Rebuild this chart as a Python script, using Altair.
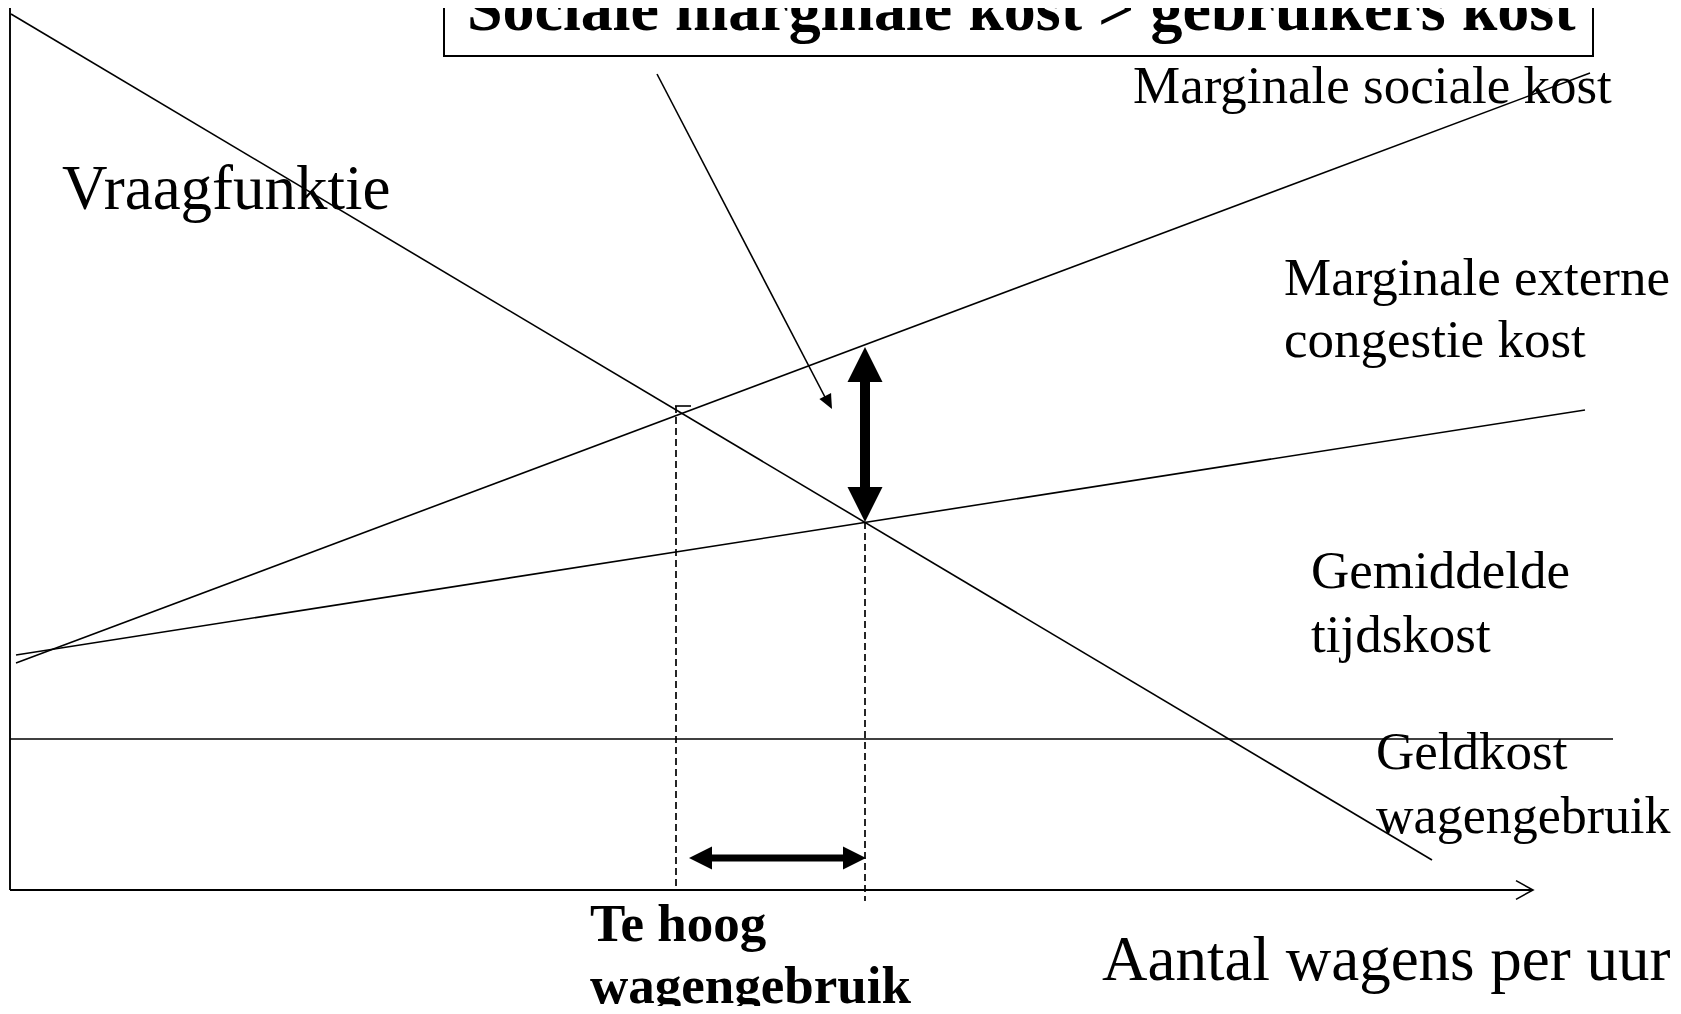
import altair as alt
import pandas as pd

# ---- data (x: wagens per uur units, y: kost units) ----
# straight curves: start and end points
curve_names = ["Vraagfunktie", "Marginale sociale kost", "Gemiddelde tijdskost", "Geldkost wagengebruik"]
curve_x1 = [0.1, 0.6, 0.6, 0.0]
curve_y1 = [87.6, 22.7, 23.5, 15.1]
curve_x2 = [142.2, 158.0, 157.5, 160.3]
curve_y2 = [3.0, 81.7, 48.0, 15.1]

# axes
axis_x1 = [0.0, 0.0]
axis_y1 = [0.0, 0.0]
axis_x2 = [0.0, 152.2]
axis_y2 = [89.5, 0.0]
axis_tip_x = [151.45]
axis_tip_y = [0.0]

# equilibrium points
q_market = 66.6      # dashed line at demand x MSC
p_msc = 48.4
q_opt = 85.5         # dashed line at demand x average time cost
p_avg = 36.8
p_gap_top = 54.3     # MSC at q_opt

# small tick at the top of the first dashed line
tick_x1, tick_x2 = 66.5, 68.1

# horizontal "te hoog" arrow
harrow_y = 3.2
harrow_x1, harrow_x2 = 67.9, 85.6

# annotation arrow from the box
ann_x1, ann_y1 = 64.7, 81.6
ann_x2, ann_y2 = 81.6, 49.1
ann_head_x, ann_head_y = 81.86, 48.75

# title box
box_x1, box_x2 = 43.4, 158.3
box_y1, box_y2 = 83.4, 92.0

# labels: text, x (left), y (baseline)
lab_reg53 = ["Marginale sociale kost", "Marginale externe", "congestie kost",
             "Gemiddelde", "tijdskost", "Geldkost"]
lab_reg53_x = [112.3, 127.4, 127.4, 130.1, 130.1, 136.6]
lab_reg53_y = [78.7, 59.5, 53.3, 30.2, 23.8, 12.1]

lab_reg52 = ["wagengebruik"]
lab_reg52_x = [136.6]
lab_reg52_y = [5.7]

lab_reg63 = ["Vraagfunktie", "Aantal wagens per uur"]
lab_reg63_x = [5.2, 109.2]
lab_reg63_y = [68.1, -9.0]

lab_bold53 = ["Te hoog", "wagengebruik"]
lab_bold53_x = [58.0, 58.0]
lab_bold53_y = [-5.1, -11.3]

lab_title = ["Sociale marginale kost > gebruikers kost"]
lab_title_x = [45.7]
lab_title_y = [86.0]

# ---- scales ----
W, H = 1665, 998
XS = alt.Scale(domain=[-0.2, 166.3], nice=False, zero=False)
YS = alt.Scale(domain=[-11.6, 88.2], nice=False, zero=False)
FONT = "Liberation Serif"


def seg(df, **mk):
    return alt.Chart(df).mark_rule(**mk).encode(
        x=alt.X("x:Q", scale=XS, axis=None),
        y=alt.Y("y:Q", scale=YS, axis=None),
        x2="x2:Q", y2="y2:Q")


def pts(df, **mk):
    return alt.Chart(df).mark_point(**mk).encode(
        x=alt.X("x:Q", scale=XS, axis=None),
        y=alt.Y("y:Q", scale=YS, axis=None))


def txt(labels, xs, ys, **mk):
    df = pd.DataFrame({"t": labels, "x": xs, "y": ys})
    return alt.Chart(df).mark_text(align="left", baseline="alphabetic", font=FONT,
                                   color="black", **mk).encode(
        x=alt.X("x:Q", scale=XS, axis=None),
        y=alt.Y("y:Q", scale=YS, axis=None),
        text="t:N")


box = alt.Chart(pd.DataFrame({"x": [box_x1], "x2": [box_x2], "y": [box_y1], "y2": [box_y2]})).mark_rect(
    fill="white", stroke="black", strokeWidth=2).encode(
    x=alt.X("x:Q", scale=XS, axis=None), x2="x2:Q",
    y=alt.Y("y:Q", scale=YS, axis=None), y2="y2:Q")

curves = seg(pd.DataFrame({"name": curve_names, "x": curve_x1, "y": curve_y1,
                           "x2": curve_x2, "y2": curve_y2}), color="black", strokeWidth=1.6)
axes = seg(pd.DataFrame({"x": axis_x1, "y": axis_y1, "x2": axis_x2, "y2": axis_y2}),
           color="black", strokeWidth=1.9)
axis_tip = pts(pd.DataFrame({"x": axis_tip_x, "y": axis_tip_y}),
               shape="M -1 -1.1 L 1 0 L -1 1.1", filled=False, size=289,
               color="black", strokeWidth=1.6, opacity=1)

thin_extra = seg(pd.DataFrame({"x": [tick_x1, ann_x1], "y": [p_msc, ann_y1],
                               "x2": [tick_x2, ann_x2], "y2": [p_msc, ann_y2]}),
                 color="black", strokeWidth=1.6)
ann_head = pts(pd.DataFrame({"x": [ann_head_x], "y": [ann_head_y]}),
               shape="M 0 1 L 0.9 -1 L -0.9 -1 Z", filled=True, size=213, angle=332.4,
               color="black", opacity=1, strokeWidth=0)

dashed = seg(pd.DataFrame({"x": [q_market, q_opt], "y": [p_msc, p_avg],
                           "x2": [q_market, q_opt], "y2": [0.0, -1.1]}),
             color="black", strokeWidth=1.7, strokeDash=[7, 4])

# thick vertical double arrow (gap between MSC and user cost)
v_shaft = seg(pd.DataFrame({"x": [q_opt], "y": [p_gap_top - 2.0], "x2": [q_opt], "y2": [p_avg + 2.0]}),
              color="black", strokeWidth=10)
v_up = pts(pd.DataFrame({"x": [q_opt], "y": [p_gap_top - 1.75]}),
           shape="M 0 -1 L 1 1 L -1 1 Z", filled=True, size=1225, color="black", opacity=1, strokeWidth=0)
v_down = pts(pd.DataFrame({"x": [q_opt], "y": [p_avg + 1.75]}),
             shape="M 0 1 L 1 -1 L -1 -1 Z", filled=True, size=1225, color="black", opacity=1, strokeWidth=0)

# horizontal double arrow
h_shaft = seg(pd.DataFrame({"x": [harrow_x1 + 1.0], "y": [harrow_y], "x2": [harrow_x2 - 1.0], "y2": [harrow_y]}),
              color="black", strokeWidth=7)
h_left = pts(pd.DataFrame({"x": [harrow_x1 + 1.15], "y": [harrow_y]}),
             shape="M -1 0 L 1 -1 L 1 1 Z", filled=True, size=529, color="black", opacity=1, strokeWidth=0)
h_right = pts(pd.DataFrame({"x": [harrow_x2 - 1.15], "y": [harrow_y]}),
              shape="M 1 0 L -1 -1 L -1 1 Z", filled=True, size=529, color="black", opacity=1, strokeWidth=0)

texts = alt.layer(
    txt(lab_reg53, lab_reg53_x, lab_reg53_y, fontSize=53),
    txt(lab_reg52, lab_reg52_x, lab_reg52_y, fontSize=52),
    txt(lab_reg63, lab_reg63_x, lab_reg63_y, fontSize=63),
    txt(lab_bold53, lab_bold53_x, lab_bold53_y, fontSize=53, fontWeight="bold"),
    txt(lab_title, lab_title_x, lab_title_y, fontSize=64, fontWeight="bold"),
)

chart = alt.layer(
    box, curves, axes, axis_tip, thin_extra, ann_head, dashed,
    v_shaft, v_up, v_down, h_shaft, h_left, h_right, texts
).properties(
    width=W, height=H,
    autosize=alt.AutoSizeParams(type="none"),
    padding=0,
    background="white",
).configure_view(stroke=None)

chart.save("out.html", embed_options={"renderer": "svg", "actions": False})
